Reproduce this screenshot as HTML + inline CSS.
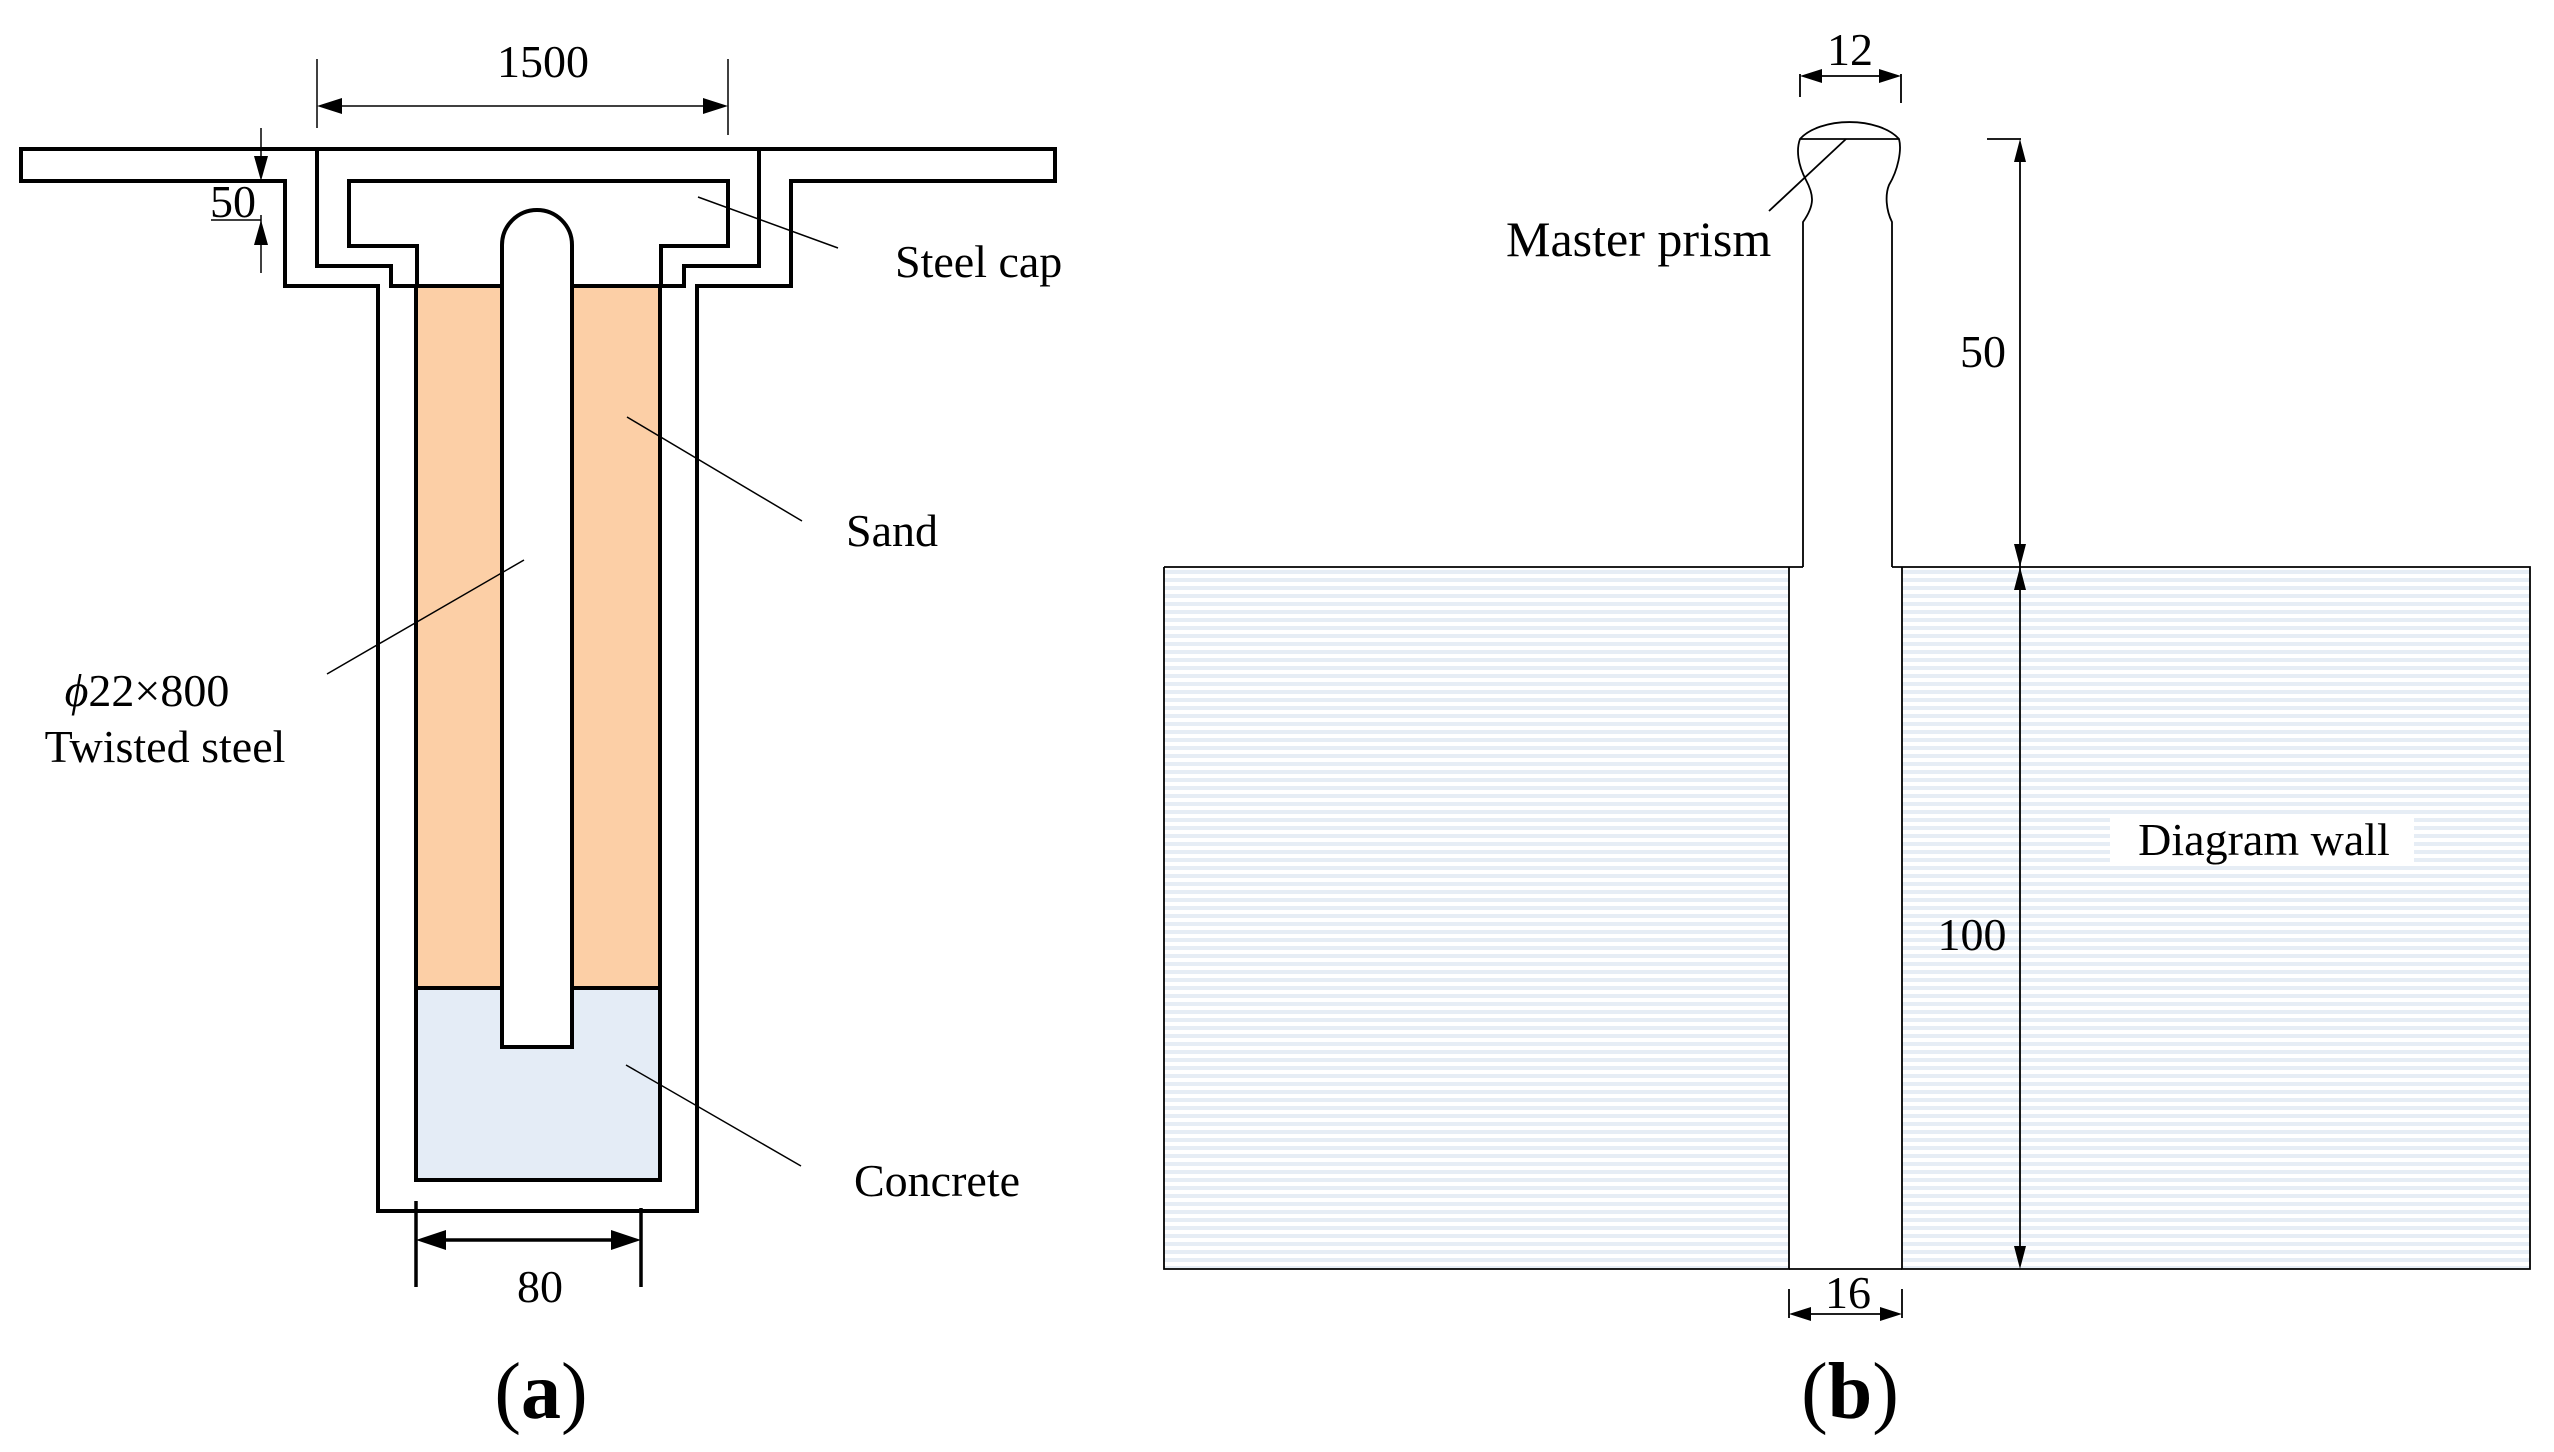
<!DOCTYPE html>
<html><head><meta charset="utf-8"><style>
html,body{margin:0;padding:0;background:#fff;}
svg{display:block;}
text{font-family:"Liberation Serif",serif;fill:#000;}
</style></head><body>
<svg width="2554" height="1452" viewBox="0 0 2554 1452" xmlns="http://www.w3.org/2000/svg">
<defs>
<pattern id="st" width="8" height="8" patternUnits="userSpaceOnUse">
<rect width="8" height="8" fill="#fff"/><rect y="2" width="8" height="4" fill="#e6edf5"/>
</pattern>
</defs>
<!-- Panel a -->
<rect x="416" y="286" width="244" height="702" fill="#fccfa6"/>
<rect x="416" y="988" width="244" height="192" fill="#e4ecf6"/>
<g fill="none" stroke="#000" stroke-width="4">
<path d="M21,149 H1055 V181 H791 V286 H697 V1211 H378 V286 H285 V181 H21 Z"/>
<path d="M317,149 V266 H391 V286 H684 V266 H759 V149"/>
<path d="M349,181 H728 V246 H661 V286 H417 V246 H349 Z" fill="#fff"/>
<path d="M416,286 V1180 H660 V286"/>
<path d="M416,988 H660"/>
<path d="M502,1047 V245 A35,35 0 0 1 572,245 V1047 Z" fill="#fff"/>
</g>
<g stroke="#000" stroke-width="1.5" fill="none">
<path d="M317,59 V128 M728,59 V135 M340,106 H705"/>
<path d="M261,128 V160 M261,215 V273 M211,220 H261"/>
<path d="M698,197 L838,248 M627,417 L802,521 M524,560 L327,674 M626,1065 L801,1166"/>
</g>
<path d="M317,106 L342,98 L342,114 Z M728,106 L703,98 L703,114 Z" fill="#000"/>
<path d="M261,181 L254,156 L268,156 Z M261,220 L254,245 L268,245 Z" fill="#000"/>
<text x="543" y="77" font-size="46" text-anchor="middle">1500</text>
<text x="233" y="217" font-size="46" text-anchor="middle">50</text>
<text x="895" y="277" font-size="46">Steel cap</text>
<text x="846" y="546" font-size="46">Sand</text>
<text x="147" y="706" font-size="46" text-anchor="middle"><tspan font-style="italic">ϕ</tspan>22×800</text>
<text x="165" y="762" font-size="46" text-anchor="middle">Twisted steel</text>
<text x="854" y="1196" font-size="46">Concrete</text>
<g stroke="#000" stroke-width="3.5" fill="none">
<path d="M416,1201 V1287 M641,1208 V1287 M440,1240 H617"/>
</g>
<path d="M416,1240 L446,1230 L446,1250 Z M641,1240 L611,1230 L611,1250 Z" fill="#000"/>
<text x="540" y="1302" font-size="46" text-anchor="middle">80</text>
<text x="541" y="1418" font-size="80" text-anchor="middle">(<tspan font-weight="bold">a</tspan>)</text>

<!-- Panel b -->
<rect x="1164" y="567" width="625" height="702" fill="url(#st)"/>
<rect x="1902" y="567" width="628" height="702" fill="url(#st)"/>
<g fill="none" stroke="#000" stroke-width="1.8">
<path d="M1164,567 H1803 M1892,567 H2530 V1269 H1902 V567 M1789,567 V1269 H1164 V567"/>
<path d="M1789,1269 H1902"/>
<path d="M1803,567 V222 C1815,205 1814,195 1806,180 C1798,165 1796,150 1800,139 A55,30 0 0 1 1899,139 C1902,150 1898,170 1889,185 C1885,195 1886,210 1892,222 V567"/>
<path d="M1800,139 H1899"/>
<path d="M1846,139 L1769,211"/>
<path d="M1800,74 V97 M1901,74 V103 M1820,76 H1881"/>
<path d="M1987,139 H2021 M2020,160 V1250"/>
<path d="M1789,1289 V1318 M1902,1289 V1318 M1810,1314 H1881"/>
</g>
<path d="M1800,76 L1822,69 L1822,83 Z M1901,76 L1879,69 L1879,83 Z" fill="#000"/>
<path d="M2020,139 L2014,162 L2026,162 Z M2020,567 L2014,544 L2026,544 Z M2020,567 L2014,590 L2026,590 Z M2020,1269 L2014,1246 L2026,1246 Z" fill="#000"/>
<path d="M1789,1314 L1811,1307 L1811,1321 Z M1902,1314 L1880,1307 L1880,1321 Z" fill="#000"/>
<text x="1850" y="65" font-size="46" text-anchor="middle">12</text>
<text x="1506" y="256" font-size="50">Master prism</text>
<text x="1983" y="367" font-size="46" text-anchor="middle">50</text>
<text x="1972" y="950" font-size="46" text-anchor="middle">100</text>
<rect x="2110" y="814" width="304" height="52" fill="#fff"/>
<text x="2264" y="855" font-size="46" text-anchor="middle">Diagram wall</text>
<text x="1848" y="1308" font-size="46" text-anchor="middle">16</text>
<text x="1850" y="1418" font-size="80" text-anchor="middle">(<tspan font-weight="bold">b</tspan>)</text>
</svg>
</body></html>
